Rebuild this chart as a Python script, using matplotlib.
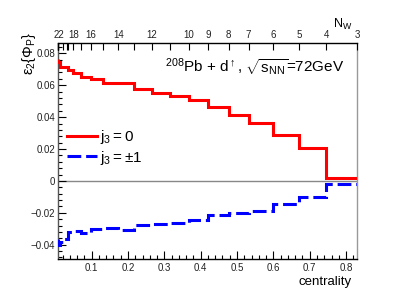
import matplotlib
matplotlib.use("Agg")
import matplotlib.pyplot as plt
from matplotlib.lines import Line2D
from matplotlib.ticker import MultipleLocator, FuncFormatter

plt.rcParams['font.family'] = ['Liberation Sans', 'DejaVu Sans']
plt.rcParams['mathtext.fontset'] = 'custom'
plt.rcParams['mathtext.rm'] = 'Liberation Sans'
plt.rcParams['mathtext.it'] = 'Liberation Sans:italic'
plt.rcParams['mathtext.bf'] = 'Liberation Sans:bold'

# centrality bin edges (the N_W bins of the top axis)
edges = [0.0075, 0.0088, 0.0128, 0.0220, 0.0314, 0.0358, 0.0496, 0.0708, 0.0983,
         0.1322, 0.1736, 0.2176, 0.2656, 0.3146, 0.3670, 0.4207, 0.4766, 0.5320,
         0.5997, 0.6700, 0.7457, 0.8300]
eps_j0 = [0.0763, 0.0745, 0.0717, 0.0717, 0.0717, 0.0696, 0.0679, 0.0652, 0.0637,
          0.0616, 0.0616, 0.0579, 0.0550, 0.0531, 0.0510, 0.0466, 0.0416, 0.0365,
          0.0285, 0.0209, 0.0020]
eps_j1 = [-0.0365, -0.0400, -0.0385, -0.0366, -0.0366, -0.0320, -0.0315, -0.0326,
          -0.0304, -0.0293, -0.0310, -0.0278, -0.0268, -0.0267, -0.0246, -0.0214,
          -0.0200, -0.0186, -0.0142, -0.0098, -0.0020]

# top axis: number of wounded nucleons vs centrality
nw_major = [22, 18, 16, 14, 12, 10, 9, 8, 7, 6, 5, 4, 3]
nw_major_pos = [0.0088, 0.0496, 0.0983, 0.1736, 0.2656, 0.3670, 0.4207, 0.4766,
                0.5320, 0.5997, 0.6700, 0.7457, 0.8299]
nw_minor_pos = [0.0077, 0.0079, 0.0081, 0.0084, 0.0220, 0.0314, 0.0358, 0.0708,
                0.1322, 0.2176, 0.3146]

fig = plt.figure(figsize=(4.15, 3.03), dpi=100)
fig.subplots_adjust(left=58/415, right=357/415, top=1-43/303, bottom=1-259/303)
ax = fig.add_subplot(111)

ax.axhline(0, color='#888888', lw=1.0, zorder=1)
ax.stairs(eps_j0, edges, baseline=None, color='#ff0000', lw=2.2, zorder=3)
ax.stairs(eps_j1, edges, baseline=None, color='#0000ff', lw=2.2,
          linestyle=(0, (4.5, 1.6)), zorder=3)

ax.set_xlim(0.0075, 0.83)
ax.set_ylim(-0.049, 0.0865)

ax.xaxis.set_major_locator(MultipleLocator(0.1))
ax.xaxis.set_minor_locator(MultipleLocator(0.02))
ax.yaxis.set_major_locator(MultipleLocator(0.02))
ax.yaxis.set_minor_locator(MultipleLocator(0.004))
ax.yaxis.set_major_formatter(FuncFormatter(
    lambda v, p: '0' if abs(v) < 1e-9 else f'{v:.2f}'.replace('-', '\u2212')))
ax.xaxis.set_major_formatter(FuncFormatter(lambda v, p: f'{v:.1f}'))

ax.tick_params(which='both', direction='in', top=False, right=False, width=0.8,
               labelsize=7, colors='black', labelcolor='#222222')
ax.tick_params(which='major', length=6)
ax.tick_params(which='minor', length=3)
ax.tick_params(axis='y', pad=2)
ax.tick_params(axis='x', pad=3)

ax.spines['left'].set_color('#555555')
ax.spines['right'].set_color('#999999')
ax.spines['bottom'].set_color('black')
ax.spines['top'].set_color('black')
for s in ax.spines.values():
    s.set_linewidth(1.0)

ax2 = ax.twiny()
ax2.set_xlim(ax.get_xlim())
ax2.set_xticks(nw_major_pos)
ax2.set_xticklabels([str(n) for n in nw_major])
ax2.set_xticks(nw_minor_pos, minor=True)
ax2.tick_params(which='both', direction='in', length=5, width=0.8, labelsize=7,
                pad=2, labelcolor='#222222')
for s in ax2.spines.values():
    s.set_visible(False)

handles = [Line2D([], [], color='#ff0000', lw=2.2),
           Line2D([], [], color='#0000ff', lw=2.2, linestyle=(0, (4.5, 1.6)))]
ax.legend(handles, [r'$\mathregular{j_3=0}$', r'$\mathregular{j_3=\pm1}$'],
          loc='upper left', bbox_to_anchor=(0.03, 0.605), frameon=False,
          fontsize=11, handlelength=1.95, handletextpad=0.2,
          labelspacing=0.15, borderpad=0, borderaxespad=0)

ax.text(0.358, 0.867, r'$^{208}$Pb + d$^{\uparrow}$, $\sqrt{\mathregular{s_{NN}}}$=72GeV',
        transform=ax.transAxes, fontsize=11, va='baseline', ha='left')

fig.text(29/415, 1-32/303, r'$\mathregular{\epsilon_2\{\Phi_P\}}$', rotation=90,
         ha='center', va='top', fontsize=10.5)
fig.text(352/415, 1-285/303, 'centrality', ha='right', va='baseline', fontsize=9.5)
fig.text(333/415, 1-28/303, r'$\mathregular{N_W}$', ha='left', va='baseline', fontsize=9)

fig.savefig('out.png', dpi=100)
